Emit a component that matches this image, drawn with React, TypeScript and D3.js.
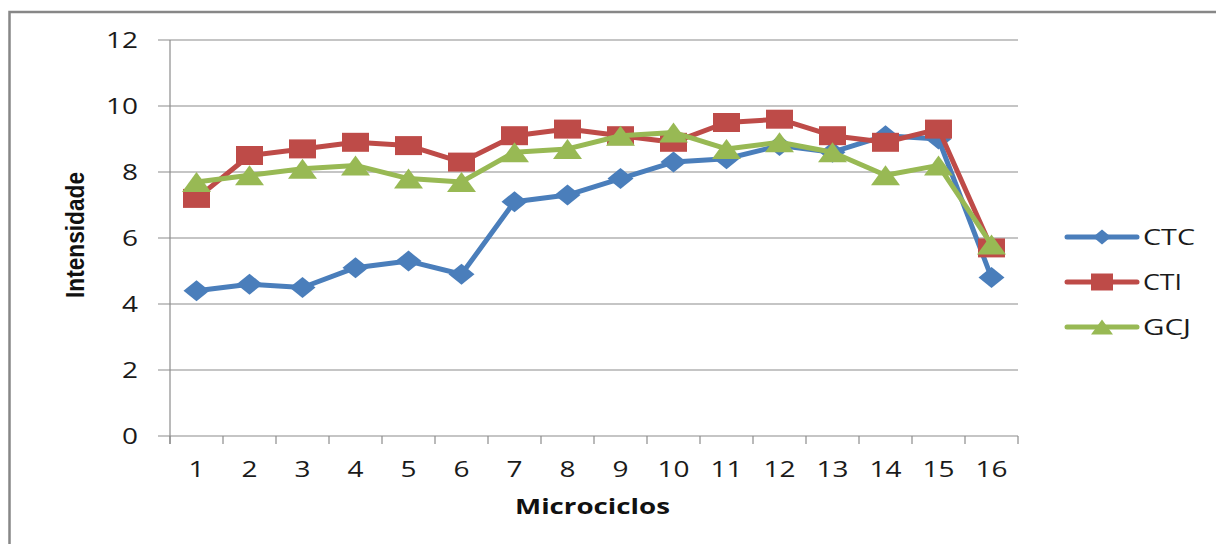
import React from "react";
import * as d3 from "d3";

// Microcycle labels and mean intensity per group
const categories = ["1", "2", "3", "4", "5", "6", "7", "8", "9", "10", "11", "12", "13", "14", "15", "16"];
const ctc = [4.4, 4.6, 4.5, 5.1, 5.3, 4.9, 7.1, 7.3, 7.8, 8.3, 8.4, 8.8, 8.6, 9.1, 9.0, 4.8];
const cti = [7.2, 8.5, 8.7, 8.9, 8.8, 8.3, 9.1, 9.3, 9.1, 8.9, 9.5, 9.6, 9.1, 8.9, 9.3, 5.7];
const gcj = [7.7, 7.9, 8.1, 8.2, 7.8, 7.7, 8.6, 8.7, 9.1, 9.2, 8.7, 8.9, 8.6, 7.9, 8.2, 5.8];
const yTicks = [0, 2, 4, 6, 8, 10, 12];
const seriesNames = ["CTC", "CTI", "GCJ"];

const W = 1216;
const H = 544;
const plot = { left: 170, right: 1018, top: 40, bottom: 436 };
const gridColor = "#8c8c8c";
const tickFont = "'Open Sans', 'DejaVu Sans', sans-serif";

type Shape = "diamond" | "square" | "triangle";

function markerPath(shape: Shape, w: number, h: number): string {
  const p = d3.path();
  const hw = w / 2;
  const hh = h / 2;
  if (shape === "diamond") {
    p.moveTo(0, -hh);
    p.lineTo(hw, 0);
    p.lineTo(0, hh);
    p.lineTo(-hw, 0);
  } else if (shape === "square") {
    p.rect(-hw, -hh, w, h);
  } else {
    p.moveTo(0, -hh);
    p.lineTo(hw, hh);
    p.lineTo(-hw, hh);
  }
  p.closePath();
  return p.toString();
}

const series = [
  { name: seriesNames[0], values: ctc, color: "#4a7ebb", shape: "diamond" as Shape, mw: 26, mh: 21, lw: 18, lh: 15 },
  { name: seriesNames[1], values: cti, color: "#be4b48", shape: "square" as Shape, mw: 27, mh: 19, lw: 22, lh: 17 },
  { name: seriesNames[2], values: gcj, color: "#98b954", shape: "triangle" as Shape, mw: 29, mh: 20, lw: 22, lh: 15 },
];

export default function App() {
  const x = d3.scaleBand<string>().domain(categories).range([plot.left, plot.right]);
  const y = d3.scaleLinear().domain([0, 12]).range([plot.bottom, plot.top]);
  const cx = (c: string) => (x(c) ?? 0) + x.bandwidth() / 2;

  const line = d3
    .line<number>()
    .x((_, i) => cx(categories[i]))
    .y((v) => y(v));

  const bandEdges = categories.map((c) => x(c) ?? 0).concat([plot.right]);

  return (
    <svg
      width={W}
      height={H}
      viewBox={`0 0 ${W} ${H}`}
      style={{ position: "absolute", left: 0, top: 0, background: "#fff" }}
    >
      {/* chart frame */}
      <rect x={9.5} y={12} width={W + 40} height={H + 40} fill="#fff" stroke="#878787" strokeWidth={2.5} />

      {/* horizontal gridlines with outward ticks */}
      {yTicks.map((t) => (
        <g key={`g${t}`}>
          <line x1={plot.left - 12} x2={plot.right} y1={y(t)} y2={y(t)} stroke={gridColor} strokeWidth={1.2} />
          <text
            x={138}
            y={y(t) + 8}
            textAnchor="end"
            fontFamily={tickFont}
            fontSize={21}
            fill="#1a1a1a"
            textLength={String(t).length * 16}
            lengthAdjust="spacingAndGlyphs"
          >
            {t}
          </text>
        </g>
      ))}

      {/* y axis line */}
      <line x1={plot.left} x2={plot.left} y1={plot.top} y2={plot.bottom + 8} stroke={gridColor} strokeWidth={1.2} />

      {/* x axis ticks between categories */}
      {bandEdges.map((e, i) => (
        <line key={`xt${i}`} x1={e} x2={e} y1={plot.bottom} y2={plot.bottom + 8} stroke={gridColor} strokeWidth={1.2} />
      ))}
      {categories.map((c) => (
        <text
          key={`xl${c}`}
          x={cx(c)}
          y={477}
          textAnchor="middle"
          fontFamily={tickFont}
          fontSize={21}
          fill="#1a1a1a"
          textLength={c.length * 16}
          lengthAdjust="spacingAndGlyphs"
        >
          {c}
        </text>
      ))}

      {/* axis titles */}
      <text
        x={592.5}
        y={514}
        textAnchor="middle"
        fontFamily={tickFont}
        fontWeight="bold"
        fontSize={21}
        fill="#111"
        textLength={155}
        lengthAdjust="spacingAndGlyphs"
      >
        Microciclos
      </text>
      <text
        transform="translate(84,235) rotate(-90)"
        textAnchor="middle"
        fontFamily="'Liberation Sans Narrow', 'Liberation Sans', sans-serif"
        fontWeight="bold"
        fontSize={25}
        fill="#111"
        textLength={126}
        lengthAdjust="spacingAndGlyphs"
      >
        Intensidade
      </text>

      {/* series lines and markers */}
      {series.map((s) => (
        <g key={s.name}>
          <path d={line(s.values) ?? ""} fill="none" stroke={s.color} strokeWidth={5} strokeLinejoin="round" />
          {s.values.map((v, i) => (
            <path
              key={i}
              d={markerPath(s.shape, s.mw, s.mh)}
              transform={`translate(${cx(categories[i])},${y(v)})`}
              fill={s.color}
            />
          ))}
        </g>
      ))}

      {/* legend */}
      {series.map((s, i) => {
        const ly = 237 + i * 45;
        const widths = [52, 39, 48];
        return (
          <g key={`lg${s.name}`}>
            <line x1={1067} x2={1137} y1={ly} y2={ly} stroke={s.color} strokeWidth={5} strokeLinecap="round" />
            <path d={markerPath(s.shape, s.lw, s.lh)} transform={`translate(1102,${ly})`} fill={s.color} />
            <text
              x={1143}
              y={ly + 8}
              fontFamily={tickFont}
              fontSize={22}
              fill="#1a1a1a"
              textLength={widths[i]}
              lengthAdjust="spacingAndGlyphs"
            >
              {s.name}
            </text>
          </g>
        );
      })}
    </svg>
  );
}
